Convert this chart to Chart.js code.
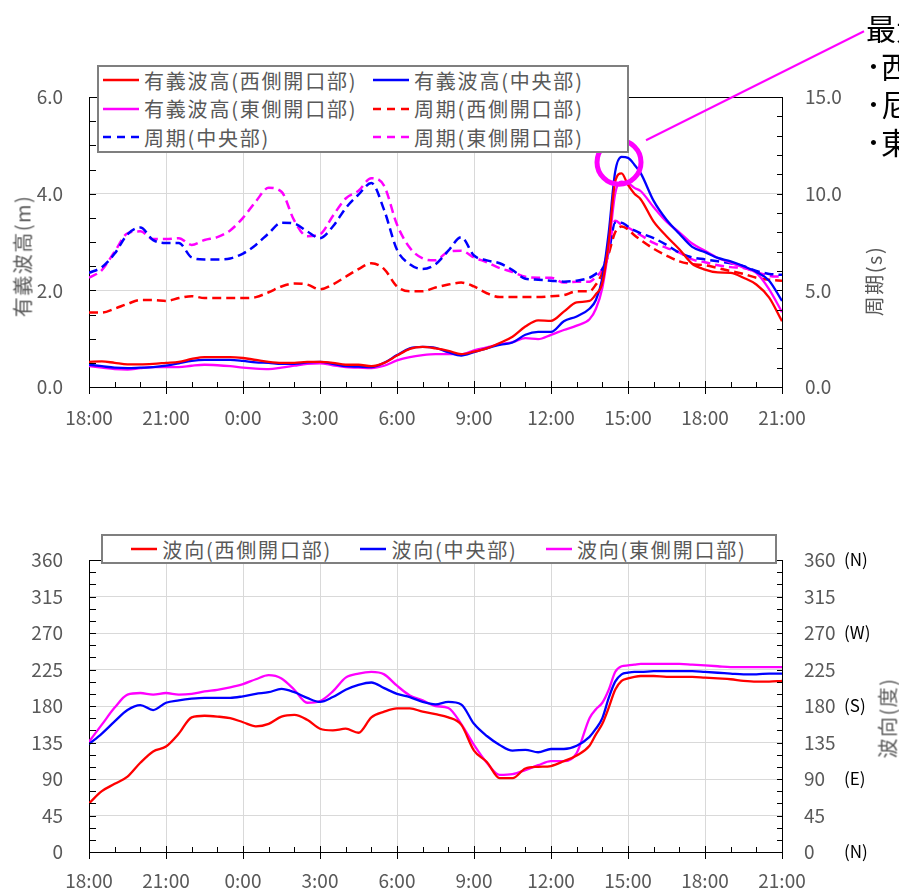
<!DOCTYPE html>
<html lang="ja">
<head>
<meta charset="utf-8">
<title>有義波高・周期・波向</title>
<script src="https://cdn.jsdelivr.net/npm/chart.js@4.4.1/dist/chart.umd.min.js"></script>
<style>
  html, body { margin: 0; padding: 0; background: #fff; }
  body {
    position: relative; width: 899px; height: 890px; overflow: hidden;
    font-family: 'Noto Sans CJK JP', sans-serif;
  }
  canvas { position: absolute; left: 0; }
  #heightCanvas { top: 0; }
  #dirCanvas { top: 450px; }
  .legend {
    position: absolute; box-sizing: border-box; background: #fff;
    border: 2px solid #7f7f7f; color: #595959; font-size: 20px;
    letter-spacing: 1.8px; white-space: nowrap;
  }
  #heightLegend { left: 97px; top: 65px; width: 532px; height: 88px; }
  #dirLegend {
    left: 101px; top: 534px; width: 676px; height: 30px;
    display: flex; justify-content: space-evenly; align-items: center;
  }
  .item { display: flex; align-items: center; height: 28.5px; }
  #heightLegend .item { position: absolute; }
  .item svg { margin-right: 5px; flex: none; }
  .axis-title {
    position: absolute; transform: translate(-50%, -50%) rotate(-90deg);
    color: #595959; font-size: 20px; letter-spacing: 1.5px; white-space: nowrap;
  }
  #note {
    position: absolute; left: 866px; top: 8px; font-size: 30px;
    line-height: 38px; color: #000; white-space: nowrap;
  }
</style>
</head>
<body>
<canvas id="heightCanvas" width="899" height="440"></canvas>
<canvas id="dirCanvas" width="899" height="440"></canvas>

<div id="heightLegend" class="legend"></div>
<div id="dirLegend" class="legend"></div>

<div class="axis-title" style="left:22px; top:256px;">有義波高(m)</div>
<div class="axis-title" style="left:873px; top:281px;">周期(s)</div>
<div class="axis-title" style="left:887px; top:718px;">波向(度)</div>

<div id="note">最大<br>･西側開口部<br>･尼<br>･東側開口部</div>

<script>
// hours since 18:00 of the first day
const times = [
  0, 0.5, 1, 1.5, 2, 2.5, 3, 3.5, 4, 4.5,
  5, 5.5, 6, 6.5, 7, 7.5, 8, 8.5, 9, 9.5,
  10, 10.5, 11, 11.5, 12, 12.5, 13, 13.5, 14, 14.5,
  15, 15.5, 16, 16.5, 17, 17.5, 18, 18.5, 19, 19.5,
  19.75, 20, 20.25, 20.5, 20.75, 21, 21.25, 21.5,
  22, 22.5, 23, 23.5, 24, 24.5, 25, 25.5, 26, 26.5, 27
];

// 有義波高 (m)
const heightWest = [
  0.52, 0.53, 0.50, 0.47, 0.47, 0.48, 0.50, 0.52, 0.58, 0.62,
  0.62, 0.62, 0.60, 0.56, 0.52, 0.50, 0.50, 0.52, 0.52, 0.50,
  0.46, 0.46, 0.43, 0.50, 0.65, 0.79, 0.83, 0.80, 0.75, 0.68,
  0.73, 0.80, 0.91, 1.04, 1.25, 1.38, 1.37, 1.56, 1.75, 1.78,
  1.92, 2.15, 3.00, 4.25, 4.42, 4.18, 4.00, 3.88,
  3.42, 3.12, 2.85, 2.55, 2.43, 2.37, 2.36, 2.26, 2.12, 1.85, 1.36
];
const heightCenter = [
  0.46, 0.43, 0.40, 0.39, 0.40, 0.41, 0.44, 0.49, 0.54, 0.56,
  0.56, 0.56, 0.54, 0.51, 0.50, 0.48, 0.48, 0.51, 0.52, 0.48,
  0.43, 0.42, 0.41, 0.50, 0.66, 0.80, 0.83, 0.81, 0.72, 0.65,
  0.72, 0.80, 0.87, 0.92, 1.08, 1.14, 1.14, 1.36, 1.46, 1.62,
  1.80, 2.25, 3.20, 4.45, 4.76, 4.74, 4.60, 4.42,
  3.85, 3.46, 3.17, 2.90, 2.79, 2.67, 2.60, 2.50, 2.38, 2.20, 1.78
];
const heightEast = [
  0.43, 0.40, 0.37, 0.36, 0.39, 0.41, 0.41, 0.41, 0.44, 0.46,
  0.45, 0.43, 0.40, 0.38, 0.37, 0.40, 0.44, 0.48, 0.49, 0.45,
  0.41, 0.40, 0.39, 0.44, 0.55, 0.62, 0.66, 0.68, 0.68, 0.68,
  0.76, 0.82, 0.88, 0.93, 1.01, 0.99, 1.08, 1.18, 1.27, 1.40,
  1.62, 2.05, 2.90, 4.00, 4.25, 4.22, 4.12, 4.05,
  3.72, 3.42, 3.20, 2.97, 2.82, 2.67, 2.57, 2.47, 2.36, 2.02, 1.55
];

// 周期 (s)
const periodWest = [
  3.85, 3.85, 4.05, 4.30, 4.50, 4.50, 4.45, 4.60, 4.70, 4.60,
  4.60, 4.60, 4.60, 4.65, 4.90, 5.20, 5.35, 5.30, 5.05, 5.30,
  5.70, 6.10, 6.40, 6.10, 5.20, 4.95, 4.95, 5.15, 5.30, 5.40,
  5.20, 4.85, 4.65, 4.65, 4.65, 4.65, 4.70, 4.75, 4.95, 4.95,
  5.30, 5.90, 6.90, 8.00, 8.30, 8.15, 7.85, 7.60,
  7.15, 6.80, 6.50, 6.35, 6.30, 6.15, 6.00, 5.85, 5.65, 5.55, 5.50
];
const periodCenter = [
  5.90, 6.20, 6.90, 7.90, 8.25, 7.60, 7.45, 7.45, 6.70, 6.60,
  6.60, 6.65, 6.90, 7.35, 7.95, 8.50, 8.45, 8.05, 7.70, 8.30,
  9.25, 9.95, 10.55, 9.15, 7.10, 6.35, 6.10, 6.35, 7.05, 7.75,
  6.80, 6.55, 6.40, 6.05, 5.60, 5.55, 5.50, 5.45, 5.50, 5.65,
  5.85, 6.10, 7.00, 8.50, 8.50, 8.30, 8.10, 7.95,
  7.70, 7.35, 6.95, 6.70, 6.60, 6.50, 6.40, 6.25, 6.00, 5.85, 5.80
];
const periodEast = [
  5.65, 6.05, 7.00, 7.95, 8.05, 7.65, 7.65, 7.70, 7.35, 7.60,
  7.75, 8.10, 8.75, 9.60, 10.30, 10.10, 8.60, 7.80, 7.90, 8.85,
  9.75, 10.15, 10.80, 10.40, 8.40, 7.20, 6.65, 6.55, 7.00, 7.05,
  6.70, 6.45, 6.15, 5.95, 5.70, 5.65, 5.65, 5.40, 5.45, 5.45,
  5.70, 6.10, 7.20, 8.60, 8.40, 8.25, 8.05, 7.85,
  7.45, 7.20, 6.95, 6.60, 6.45, 6.30, 6.20, 6.15, 5.95, 5.75, 5.70
];

// 波向 (度)
const dirWest = [
  60, 75, 84, 93, 110, 124, 130, 146, 166, 168,
  167, 165, 160, 155, 158, 167, 169, 163, 152, 150,
  152, 147, 166, 173, 177, 177, 173, 170, 166, 157,
  125, 111, 91, 91, 103, 105, 106, 112, 119, 131,
  145, 158, 178, 200, 211, 214, 216, 217,
  217, 216, 216, 216, 215, 214, 213, 211, 210, 210, 211
];
const dirCenter = [
  133, 146, 161, 175, 181, 175, 184, 187, 189, 190,
  190, 190, 192, 195, 197, 201, 197, 190, 185, 191,
  200, 206, 209, 202, 195, 191, 185, 182, 185, 182,
  158, 143, 132, 125, 126, 123, 127, 127, 131, 142,
  152, 165, 190, 210, 219, 221, 222, 222,
  223, 223, 223, 223, 222, 221, 220, 219, 219, 220, 220
];
const dirEast = [
  136, 157, 178, 194, 196, 194, 196, 194, 195, 198,
  200, 203, 207, 213, 218, 214, 200, 184, 186, 198,
  215, 220, 222, 219, 205, 193, 187, 180, 177.5, 158,
  132, 110, 95, 96, 101, 107, 112, 112, 122, 165,
  176, 184, 200, 222, 229, 230, 231, 232,
  232, 232, 232, 231, 230, 229, 228, 228, 228, 228, 228
];

const compassDegrees = [360, 270, 180, 90, 0];
const compassNames = ['(N)', '(W)', '(S)', '(E)', '(N)'];

// circled peak (in data units) and the callout towards the note
const peakMark = { x: 20.65, y: 4.65 };

const RED = '#FF0000';
const BLUE = '#0000FF';
const MAGENTA = '#FF00FF';
const TEXT_GRAY = '#595959';
const GRID_COLOR = '#d9d9d9';
const FONT_FAMILY = "'Noto Sans CJK JP', sans-serif";
const tickFont = { family: FONT_FAMILY, size: 19 };

function series(values) {
  return times.map((t, i) => ({ x: t, y: values[i] }));
}

function hourLabel(v) {
  return ((18 + v) % 24) + ':00';
}

// inside / cross tick marks and the top edge of the plot frame
const axisMarks = {
  id: 'axisMarks',
  afterDraw(chart, args, opts) {
    const { ctx, chartArea: a, scales } = chart;
    const X = scales.x, L = scales.y, R = scales.y1;
    const crisp = v => Math.round(v) + 0.5;
    ctx.save();
    ctx.strokeStyle = '#000';
    ctx.lineWidth = 1;
    ctx.beginPath();
    ctx.moveTo(a.left, crisp(a.top));
    ctx.lineTo(a.right + 1, crisp(a.top));
    for (let h = X.min; h <= X.max; h += 1) {
      const x = crisp(X.getPixelForValue(h));
      if (h % 3 === 0) {
        ctx.moveTo(x, a.bottom - 6);
        ctx.lineTo(x, a.bottom + 7);
      } else {
        ctx.moveTo(x, a.bottom - 5);
        ctx.lineTo(x, a.bottom);
      }
    }
    for (let v = L.min; v <= L.max + 1e-9; v += opts.leftStep) {
      const y = crisp(L.getPixelForValue(v));
      ctx.moveTo(a.left, y);
      ctx.lineTo(a.left + 7, y);
    }
    for (let v = R.min; v <= R.max + 1e-9; v += opts.rightStep) {
      const y = crisp(R.getPixelForValue(v));
      ctx.moveTo(a.right + 1, y);
      ctx.lineTo(a.right - 5, y);
    }
    ctx.stroke();
    ctx.restore();
  }
};

const peakCallout = {
  id: 'peakCallout',
  afterDraw(chart) {
    const { ctx, scales } = chart;
    const cx = scales.x.getPixelForValue(peakMark.x);
    const cy = scales.y.getPixelForValue(peakMark.y);
    ctx.save();
    ctx.strokeStyle = MAGENTA;
    ctx.lineWidth = 2;
    ctx.beginPath();
    ctx.moveTo(cx + 27, cy - 22);
    ctx.lineTo(cx + 245, cy - 131);
    ctx.stroke();
    ctx.lineWidth = 5;
    ctx.beginPath();
    ctx.arc(cx, cy, 22, 0, Math.PI * 2);
    ctx.stroke();
    ctx.restore();
  }
};

const compassMarks = {
  id: 'compassMarks',
  afterDraw(chart) {
    const { ctx, chartArea: a, scales } = chart;
    ctx.save();
    ctx.fillStyle = '#000';
    ctx.font = '17px ' + FONT_FAMILY;
    ctx.textBaseline = 'middle';
    compassDegrees.forEach((deg, i) => {
      ctx.fillText(compassNames[i], a.right + 62, scales.y1.getPixelForValue(deg));
    });
    ctx.restore();
  }
};

function xScale(labelPad) {
  return {
    type: 'linear',
    min: 0,
    max: 27,
    ticks: {
      stepSize: 3,
      autoSkip: false,
      maxRotation: 0,
      padding: labelPad,
      color: TEXT_GRAY,
      font: tickFont,
      callback: hourLabel
    },
    grid: { color: GRID_COLOR, drawTicks: false },
    border: { color: '#000', width: 1 }
  };
}

function yScale(position, max, step, fmt, pad, width, showGrid) {
  return {
    type: 'linear',
    position: position,
    min: 0,
    max: max,
    ticks: { stepSize: step, padding: pad, color: TEXT_GRAY, font: tickFont, callback: fmt },
    grid: { color: GRID_COLOR, drawTicks: false, drawOnChartArea: showGrid },
    border: { color: '#000', width: 1 },
    afterFit: s => { s.width = width; }
  };
}

function lineSet(label, values, color, dashed) {
  return {
    label: label,
    data: series(values),
    borderColor: color,
    backgroundColor: color,
    borderWidth: dashed ? 2.5 : 2.3,
    borderDash: dashed ? [9, 5] : [],
    pointRadius: 0,
    fill: false,
    cubicInterpolationMode: 'monotone'
  };
}

const heightX = xScale(19);
heightX.afterFit = s => { s.height = 53; };

const heightChart = new Chart(document.getElementById('heightCanvas'), {
  type: 'line',
  data: {
    datasets: [
      lineSet('有義波高(西側開口部)', heightWest, RED, false),
      lineSet('有義波高(中央部)', heightCenter, BLUE, false),
      lineSet('有義波高(東側開口部)', heightEast, MAGENTA, false),
      Object.assign(lineSet('周期(西側開口部)', periodWest, RED, true), { yAxisID: 'y1' }),
      Object.assign(lineSet('周期(中央部)', periodCenter, BLUE, true), { yAxisID: 'y1' }),
      Object.assign(lineSet('周期(東側開口部)', periodEast, MAGENTA, true), { yAxisID: 'y1' })
    ]
  },
  options: {
    responsive: false,
    animation: false,
    layout: { padding: { top: 97, left: 0, right: 0, bottom: 0 } },
    plugins: {
      legend: { display: false },
      tooltip: { enabled: false },
      axisMarks: { leftStep: 0.5, rightStep: 1 }
    },
    scales: {
      x: heightX,
      y: yScale('left', 6, 2, v => v.toFixed(1), 26, 89, true),
      y1: yScale('right', 15, 5, v => v.toFixed(1), 23, 117, false)
    }
  },
  plugins: [axisMarks, peakCallout]
});

const dirX = xScale(17);
dirX.afterFit = s => { s.height = 38; };

const dirChart = new Chart(document.getElementById('dirCanvas'), {
  type: 'line',
  data: {
    datasets: [
      lineSet('波向(西側開口部)', dirWest, RED, false),
      lineSet('波向(中央部)', dirCenter, BLUE, false),
      lineSet('波向(東側開口部)', dirEast, MAGENTA, false)
    ]
  },
  options: {
    responsive: false,
    animation: false,
    layout: { padding: { top: 110, left: 0, right: 0, bottom: 0 } },
    plugins: {
      legend: { display: false },
      tooltip: { enabled: false },
      axisMarks: { leftStep: 15, rightStep: 15 }
    },
    scales: {
      x: dirX,
      y: yScale('left', 360, 45, v => String(v), 26, 89, true),
      y1: yScale('right', 360, 45, v => String(v), 22, 117, false)
    }
  },
  plugins: [axisMarks, compassMarks]
});

// legends built from the chart datasets
function legendItem(ds, sampleWidth) {
  const item = document.createElement('div');
  item.className = 'item';
  const dash = ds.borderDash.length ? ' stroke-dasharray="8,6"' : '';
  item.innerHTML =
    '<svg width="' + sampleWidth + '" height="6"><line x1="0" y1="3" x2="' + sampleWidth +
    '" y2="3" stroke="' + ds.borderColor + '" stroke-width="2.5"' + dash + '/></svg>' +
    '<span>' + ds.label + '</span>';
  return item;
}

const heightLegend = document.getElementById('heightLegend');
heightChart.data.datasets.forEach((ds, i) => {
  const item = legendItem(ds, 36);
  item.style.left = (4 + (i % 2) * 270) + 'px';
  item.style.top = (-1 + Math.floor(i / 2) * 28.5) + 'px';
  heightLegend.appendChild(item);
});

const dirLegend = document.getElementById('dirLegend');
dirChart.data.datasets.forEach(ds => {
  dirLegend.appendChild(legendItem(ds, 26));
});
</script>
</body>
</html>
